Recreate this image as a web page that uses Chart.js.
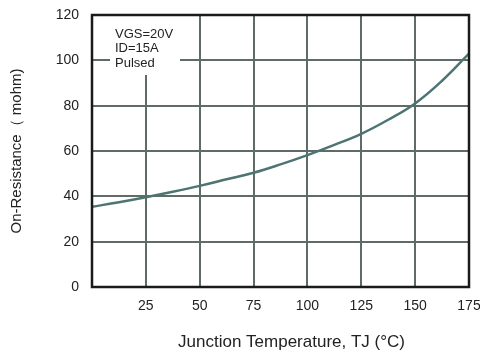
<!DOCTYPE html>
<html lang="en">
<head>
  <meta charset="UTF-8">
  <title>On-Resistance vs Junction Temperature</title>
  <script src="https://cdn.jsdelivr.net/npm/chart.js"></script>
  <style>
    body {
      margin: 0;
      background: #ffffff;
    }
    #wrap {
      width: 480px;
      height: 353px;
    }
  </style>
</head>
<body>
<div id="wrap"><canvas id="chartCanvas" width="480" height="353"></canvas></div>

<script>
  // Datos
  const temperaturas = [0, 12.5, 25, 37.5, 50, 62.5, 75, 87.5, 100, 112.5, 125, 137.5, 150, 162.5, 175];
  const resistencia = [35.4, 37.4, 39.6, 42, 44.6, 47.5, 50.4, 54.1, 58.2, 62.7, 67.6, 73.8, 81, 91, 103];
  const condiciones = ['VGS=20V', 'ID=15A', 'Pulsed'];
  const tituloX = 'Junction Temperature, TJ (°C)';

  const gridColor = '#5f6b68';
  const textColor = '#222222';
  const fuente = '"Liberation Sans", Arial, sans-serif';

  // Recuadro blanco con las condiciones, marco del área y título del eje X
  const cajaCondiciones = {
    id: 'cajaCondiciones',
    beforeDatasetsDraw(chart) {
      const { ctx, chartArea } = chart;
      ctx.save();
      ctx.fillStyle = '#ffffff';
      ctx.fillRect(chartArea.left + 18, chartArea.top + 1, 70, 59);
      ctx.fillStyle = textColor;
      ctx.font = '13px ' + fuente;
      ctx.textBaseline = 'middle';
      condiciones.forEach((t, i) => {
        ctx.fillText(t, chartArea.left + 23, chartArea.top + 19 + i * 14.5);
      });
      ctx.restore();
    },
    afterDatasetsDraw(chart) {
      const { ctx, chartArea } = chart;
      ctx.save();
      ctx.strokeStyle = '#1a1a1a';
      ctx.lineWidth = 2.5;
      ctx.strokeRect(chartArea.left, chartArea.top, chartArea.right - chartArea.left, chartArea.bottom - chartArea.top);
      ctx.fillStyle = textColor;
      ctx.font = '17px ' + fuente;
      ctx.textAlign = 'center';
      ctx.textBaseline = 'middle';
      ctx.fillText(tituloX, (chartArea.left + chartArea.right) / 2 + 11, chart.height - 11);
      ctx.restore();
    }
  };

  new Chart(document.getElementById('chartCanvas'), {
    type: 'line',
    data: {
      datasets: [{
        data: temperaturas.map((t, i) => ({ x: t, y: resistencia[i] })),
        borderColor: '#4d7473',
        borderWidth: 2.5,
        pointRadius: 0,
        tension: 0.4,
        fill: false
      }]
    },
    options: {
      responsive: false,
      animation: false,
      layout: { padding: { top: 15, right: 11, left: 0, bottom: 0 } },
      plugins: {
        legend: { display: false },
        tooltip: { enabled: false }
      },
      scales: {
        x: {
          type: 'linear',
          min: 0,
          max: 175,
          afterFit(scale) {
            scale.height = 66;
            scale.paddingLeft = 0;
            scale.paddingRight = 0;
          },
          ticks: {
            stepSize: 25,
            color: textColor,
            font: { size: 14, family: fuente },
            padding: 11,
            maxRotation: 0,
            callback: v => (v === 0 ? '' : v)
          },
          grid: { color: gridColor, lineWidth: 2, drawTicks: false },
          border: { display: false }
        },
        y: {
          min: 0,
          max: 120,
          afterFit(scale) {
            scale.width = 92;
            scale.paddingTop = 0;
            scale.paddingBottom = 0;
          },
          ticks: {
            stepSize: 20,
            color: textColor,
            font: { size: 14, family: fuente },
            padding: 13
          },
          grid: { color: gridColor, lineWidth: 2, drawTicks: false },
          border: { display: false },
          title: {
            display: true,
            text: 'On-Resistance（ mohm)',
            color: textColor,
            font: { size: 15, family: fuente },
            padding: { top: 8, bottom: 0 }
          }
        }
      }
    },
    plugins: [cajaCondiciones]
  });
</script>
</body>
</html>
